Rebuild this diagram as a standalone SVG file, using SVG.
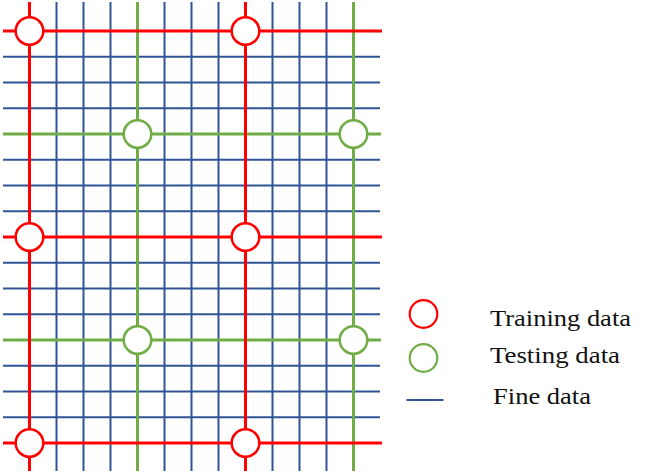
<svg xmlns="http://www.w3.org/2000/svg" width="664" height="474" viewBox="0 0 664 474">
<style>
.b{stroke:#2F5496;stroke-width:2;fill:none}
.g{stroke:#70AD47;stroke-width:3;fill:none}
.r{stroke:#FF0000;stroke-width:3;fill:none}
.tr{fill:#fff;stroke:#FF0000;stroke-width:2.5}
.te{fill:#fff;stroke:#70AD47;stroke-width:2.5}
.lg{font-family:"Liberation Serif","Times New Roman",serif;font-size:24px;fill:#111}
</style>
<rect width="664" height="474" fill="#fff"/>
<g id="connectors">
<g id="fine-v">
<line class="b" x1="56.5" y1="2" x2="56.5" y2="471"/>
<line class="b" x1="83.5" y1="2" x2="83.5" y2="471"/>
<line class="b" x1="110.5" y1="2" x2="110.5" y2="471"/>
<line class="b" x1="164.5" y1="2" x2="164.5" y2="471"/>
<line class="b" x1="191.5" y1="2" x2="191.5" y2="471"/>
<line class="b" x1="218.5" y1="2" x2="218.5" y2="471"/>
<line class="b" x1="272.5" y1="2" x2="272.5" y2="471"/>
<line class="b" x1="299.5" y1="2" x2="299.5" y2="471"/>
<line class="b" x1="326.5" y1="2" x2="326.5" y2="471"/>
</g>
<g id="fine-h">
<line class="b" x1="3" y1="56.75" x2="380" y2="56.75"/>
<line class="b" x1="3" y1="82.5" x2="380" y2="82.5"/>
<line class="b" x1="3" y1="108.25" x2="380" y2="108.25"/>
<line class="b" x1="3" y1="159.75" x2="380" y2="159.75"/>
<line class="b" x1="3" y1="185.5" x2="380" y2="185.5"/>
<line class="b" x1="3" y1="211.25" x2="380" y2="211.25"/>
<line class="b" x1="3" y1="262.75" x2="380" y2="262.75"/>
<line class="b" x1="3" y1="288.5" x2="380" y2="288.5"/>
<line class="b" x1="3" y1="314.25" x2="380" y2="314.25"/>
<line class="b" x1="3" y1="365.75" x2="380" y2="365.75"/>
<line class="b" x1="3" y1="391.5" x2="380" y2="391.5"/>
<line class="b" x1="3" y1="417.25" x2="380" y2="417.25"/>
</g>
<g id="test-lines">
<line class="g" x1="137.5" y1="2" x2="137.5" y2="471"/>
<line class="g" x1="353.5" y1="2" x2="353.5" y2="471"/>
<line class="g" x1="3" y1="134" x2="381" y2="134"/>
<line class="g" x1="3" y1="340" x2="381" y2="340"/>
</g>
<g id="train-lines">
<line class="r" x1="29.5" y1="2" x2="29.5" y2="471"/>
<line class="r" x1="245.5" y1="2" x2="245.5" y2="471"/>
<line class="r" x1="3" y1="31" x2="382" y2="31"/>
<line class="r" x1="3" y1="237" x2="382" y2="237"/>
<line class="r" x1="3" y1="443" x2="382" y2="443"/>
</g>
</g>
<g id="train-1"><circle class="tr" cx="29.5" cy="31" r="13.8"/></g>
<g id="train-2"><circle class="tr" cx="245.5" cy="31" r="13.8"/></g>
<g id="train-3"><circle class="tr" cx="29.5" cy="237" r="13.8"/></g>
<g id="train-4"><circle class="tr" cx="245.5" cy="237" r="13.8"/></g>
<g id="train-5"><circle class="tr" cx="29.5" cy="443" r="13.8"/></g>
<g id="train-6"><circle class="tr" cx="245.5" cy="443" r="13.8"/></g>
<g id="test-1"><circle class="te" cx="137.5" cy="134" r="13.8"/></g>
<g id="test-2"><circle class="te" cx="353.5" cy="134" r="13.8"/></g>
<g id="test-3"><circle class="te" cx="137.5" cy="340" r="13.8"/></g>
<g id="test-4"><circle class="te" cx="353.5" cy="340" r="13.8"/></g>
<g id="legend">
<g id="legend-training">
<circle cx="423.5" cy="314" r="13.8" fill="#fff" stroke="#FF0000" stroke-width="2.2"/>
<text class="lg" x="490" y="325.5" textLength="141" lengthAdjust="spacingAndGlyphs">Training data</text>
</g>
<g id="legend-testing">
<circle cx="423.5" cy="358" r="13.8" fill="#fff" stroke="#70AD47" stroke-width="2.2"/>
<text class="lg" x="490" y="363" textLength="130" lengthAdjust="spacingAndGlyphs">Testing data</text>
</g>
<g id="legend-fine">
<line x1="406.5" y1="400" x2="443.5" y2="400" stroke="#2F5496" stroke-width="2"/>
<text class="lg" x="493" y="404" textLength="98" lengthAdjust="spacingAndGlyphs">Fine data</text>
</g>
</g>
</svg>
